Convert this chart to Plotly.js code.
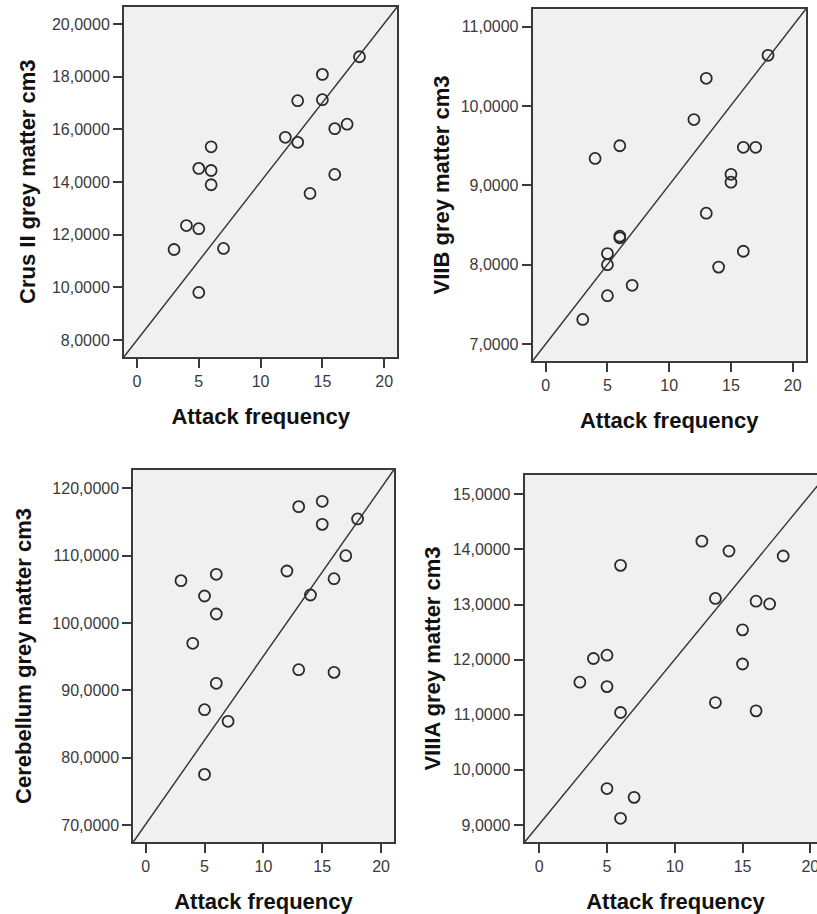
<!DOCTYPE html>
<html>
<head>
<meta charset="utf-8">
<script src="https://cdn.plot.ly/plotly-3.0.1.min.js"></script>
<style>
html, body { margin: 0; padding: 0; overflow: hidden; background: #fff; }
#chart { width: 830px; height: 914px; }
</style>
</head>
<body>
<div id="chart"></div>
<script>
// Shared x: attack frequency per subject
const attackFrequency = [3, 4, 5, 5, 5, 6, 6, 6, 7, 12, 13, 13, 14, 15, 15, 16, 16, 17, 18];

// Grey matter volumes (cm3), same subject order
const crusII     = [11.44, 12.35, 14.52, 12.23, 9.81, 15.34, 14.44, 13.90, 11.48, 15.70, 17.09, 15.51, 13.57, 18.09, 17.13, 16.03, 14.29, 16.20, 18.76];
const viib       = [7.31, 9.34, 8.14, 8.00, 7.61, 9.50, 8.36, 8.34, 7.74, 9.83, 10.35, 8.65, 7.97, 9.14, 9.04, 9.48, 8.17, 9.48, 10.64];
const cerebellum = [106.29, 96.98, 104.01, 87.13, 77.52, 107.23, 101.34, 91.04, 85.40, 107.72, 117.28, 93.07, 104.16, 118.07, 114.65, 106.58, 92.67, 110.00, 115.45];
const viiia      = [11.59, 12.02, 12.08, 11.51, 9.66, 13.71, 11.04, 9.12, 9.50, 14.15, 13.11, 11.22, 13.97, 12.54, 11.92, 13.06, 11.07, 13.01, 13.88];

const xTitle = "Attack frequency";
const yTitles = ["Crus II grey matter cm3", "VIIB grey matter cm3", "Cerebellum grey matter cm3", "VIIIA grey matter cm3"];
const xTickValues = [0, 5, 10, 15, 20];

const W = 830, H = 914;
const FONT = "Liberation Sans, Arial, sans-serif";

// panel frames in pixels: [left, right, top, bottom]
const frames = [
  [124, 397.3, 6.7, 356.7],
  [532.7, 805.7, 9.3, 360.7],
  [133.3, 393.7, 470, 842],
  [524.7, 826.3, 475, 842]
];
const xRanges = [[-1.05, 21.06], [-1.05, 21.05], [-1.05, 21.07], [-1.07, 21.18]];
const yRanges = [[7.37, 20.66], [6.79, 11.22], [67.48, 122.72], [8.69, 15.35]];
const yDticks = [2, 1, 10, 1];
const yTick0 = [8, 7, 70, 9];
const yStandoff = [10, 5, 15, 6];

const series = [crusII, viib, cerebellum, viiia];
const traces = [];
const layout = {
  width: W, height: H,
  margin: {l: 0, r: 0, t: 0, b: 0},
  paper_bgcolor: "#ffffff",
  plot_bgcolor: "#f0f0f0",
  showlegend: false,
  separators: ",.",
  font: {family: FONT, color: "#333"},
  shapes: []
};

for (let i = 0; i < 4; i++) {
  const sfx = i === 0 ? "" : String(i + 1);
  const f = frames[i];
  traces.push({
    type: "scatter", mode: "markers",
    x: attackFrequency, y: series[i],
    xaxis: "x" + sfx, yaxis: "y" + sfx,
    marker: {symbol: "circle-open", size: 11, color: "#2b2b2b", line: {width: 1.8}},
    hoverinfo: "x+y"
  });
  const common = {
    showgrid: false, zeroline: false,
    showline: true, mirror: true, linecolor: "#3a3a3a", linewidth: 2,
    ticks: "outside", ticklen: 9, tickwidth: 2, tickcolor: "#3a3a3a",
    tickfont: {family: FONT, size: 16, color: "#3a3a3a"},
    automargin: false
  };
  layout["xaxis" + sfx] = Object.assign({}, common, {
    domain: [f[0] / W, f[1] / W],
    range: xRanges[i],
    tickmode: "array", tickvals: xTickValues, ticktext: xTickValues.map(String),
    anchor: "y" + sfx,
    title: {text: xTitle, font: {family: FONT, size: 22, weight: "bold", color: "#111"}, standoff: 20}
  });
  layout["yaxis" + sfx] = Object.assign({}, common, {
    domain: [1 - f[3] / H, 1 - f[2] / H],
    range: yRanges[i],
    tick0: yTick0[i], dtick: yDticks[i], tickformat: ".4f",
    anchor: "x" + sfx,
    title: {text: yTitles[i], font: {family: FONT, size: 22, weight: "bold", color: "#111"}, standoff: yStandoff[i]}
  });
  layout.shapes.push({
    type: "line", xref: "x" + sfx + " domain", yref: "y" + sfx + " domain",
    x0: 0, y0: 0, x1: 1, y1: 1,
    line: {color: "#333", width: 1.4}, layer: "below"
  });
}

Plotly.newPlot("chart", traces, layout, {displayModeBar: false, staticPlot: true});
</script>
</body>
</html>
